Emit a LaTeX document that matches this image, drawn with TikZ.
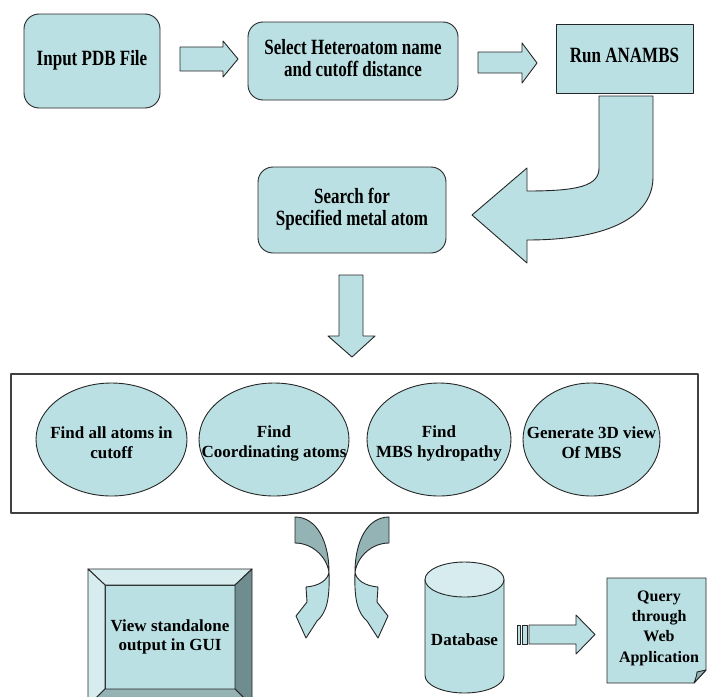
\documentclass[tikz,border=0pt]{standalone}
\usepackage{fontspec}
\usepackage{graphicx}
\setmainfont{Liberation Serif}
\usetikzlibrary{shapes.geometric}

\definecolor{boxfill}{HTML}{BBE0E3}
\definecolor{backfill}{HTML}{93B3B5}
\definecolor{lightface}{HTML}{D6ECEE}
\definecolor{darkface}{HTML}{6F8C8E}
\definecolor{midface}{HTML}{95B3B5}
\newcommand{\tallt}[1]{\scalebox{1}[1.28]{\begin{tabular}{@{}c@{}}#1\end{tabular}}}

\begin{document}
\begin{tikzpicture}[x=1pt,y=-1pt,line join=round,
  outl/.style={draw=black!85,line width=0.9pt},
  procbox/.style={outl,fill=boxfill,rounded corners=15pt,align=center,inner sep=0pt,
    font=\bfseries\fontsize{17}{16}\selectfont},
  runbox/.style={procbox,rounded corners=0pt},
  oval/.style={outl,fill=boxfill},
  blockarrow/.style={outl,fill=boxfill},
  txt/.style={align=center,inner sep=0pt,font=\bfseries\fontsize{17}{19}\selectfont}]
  \useasboundingbox (0,0) rectangle (708,696);

  \node[procbox,minimum width=136,minimum height=94] (input) at (92,61) {\tallt{Input PDB File}};
  \node[procbox,minimum width=210,minimum height=78] (select) at (353,61) {\tallt{Select Heteroatom name\\and cutoff distance}};
  \node[runbox,minimum width=137,minimum height=69] (run) at (624.5,58.5) {\tallt{Run ANAMBS}};
  \node[procbox,minimum width=188,minimum height=86] (search) at (352,210) {\tallt{Search for\\Specified metal atom}};

  % block arrows
  \path[blockarrow] (180,47) -- (223,47) -- (223,41) -- (238,59) -- (223,77) -- (223,71) -- (180,71) -- cycle;
  \path[blockarrow] (478,52) -- (522,52) -- (522,43) -- (537,63) -- (522,83) -- (522,73) -- (478,73) -- cycle;
  \path[blockarrow] (599,96) -- (599,168) .. controls (599,186) and (578,191) .. (527,191) -- (527,168)
    -- (472,215) -- (527,263) -- (527,240) .. controls (612,240) and (653,215) .. (653,177) -- (653,96) -- cycle;
  \path[blockarrow] (339,275) -- (363,275) -- (363,336) -- (375,336) -- (352,357) -- (328,336) -- (339,336) -- cycle;

  \node[outl,line width=1.2pt,draw=black!75,minimum width=687,minimum height=139] (stage) at (354.5,443.5) {};
  \path[oval] (111.5,439.5) ellipse[x radius=75.5,y radius=56.5];
  \path[oval] (274,439.5) ellipse[x radius=75,y radius=56.5];
  \path[oval] (439,439.5) ellipse[x radius=72,y radius=56.5];
  \path[oval] (591.5,439.5) ellipse[x radius=68.5,y radius=56.5];
  \node[txt,font=\bfseries\fontsize{17}{20}\selectfont] (allatoms) at (111.5,443) {Find all atoms in\\cutoff};
  \node[txt,font=\bfseries\fontsize{17}{20}\selectfont] (coord) at (274,443) {Find\\Coordinating atoms};
  \node[txt,font=\bfseries\fontsize{17}{20}\selectfont] (hydro) at (439,443) {Find\\MBS hydropathy};
  \node[txt,font=\bfseries\fontsize{17}{20}\selectfont] (view3d) at (591.5,443) {Generate 3D view\\Of MBS};

  % curved arrows
  \foreach \sx/\ox in {1/295,-1/389} {
    \begin{scope}[shift={(\ox,517)},xscale=\sx]
      \path[outl,fill=backfill] (0,0) .. controls (22,0) and (34,25) .. (34,55)
        .. controls (31,38) and (16,26) .. (0,26) -- cycle;
      \path[outl,fill=boxfill] (34,55) .. controls (35,84) and (31,96) .. (22,104) -- (11,121) -- (1,99)
        -- (12,85) -- (11,70) .. controls (24,69) and (33,63) .. (34,55) -- cycle;
    \end{scope}
  }

  % bevel box
  \node[outl,fill=boxfill,outer sep=0pt,minimum width=130,minimum height=104,txt] (gui) at (170,637) {View standalone\\output in GUI};
  \path[outl,fill=lightface] (88,569) -- (252,569) -- (gui.north east) -- (gui.north west) -- cycle;
  \path[outl,fill=lightface] (88,569) -- (gui.north west) -- (gui.south west) -- (88,706) -- cycle;
  \path[outl,fill=darkface] (252,569) -- (252,706) -- (gui.south east) -- (gui.north east) -- cycle;
  \path[outl,fill=midface] (88,706) -- (gui.south west) -- (gui.south east) -- (252,706) -- cycle;

  % database
  \path[outl,fill=boxfill] (425,579.5) -- (425,675.5) arc[start angle=180,end angle=0,x radius=39.5,y radius=17.5]
    -- (504,579.5) -- cycle;
  \path[outl,fill=lightface] (464.5,579.5) ellipse[x radius=39.5,y radius=17.5];
  \node[txt] (db) at (464.5,640) {Database};

  \path[outl,fill=boxfill] (517,625) rectangle (520,644);
  \path[outl,fill=boxfill] (522,625) rectangle (527,644);
  \path[blockarrow] (529,625) -- (576,625) -- (576,615) -- (595,634.5) -- (576,654) -- (576,644) -- (529,644) -- cycle;

  % web document
  \path[outl,fill=boxfill] (607,578) -- (706,578) -- (706,670) -- (694,683) -- (607,683) -- cycle;
  \path[outl,fill=midface] (694,683) .. controls (696,678) and (697,674) .. (697,672) -- (706,670) -- cycle;
  \node[txt,font=\bfseries\fontsize{16}{20.3}\selectfont] (query) at (659,628) {Query\\through\\Web\\Application};
\end{tikzpicture}
\end{document}
